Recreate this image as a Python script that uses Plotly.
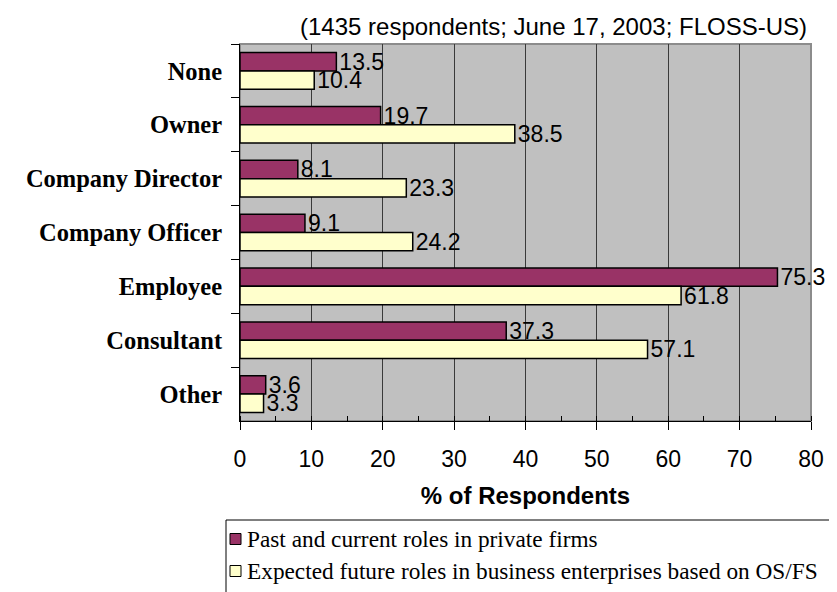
import plotly.graph_objects as go

# ---------------- data ----------------
categories = ["None", "Owner", "Company Director", "Company Officer",
              "Employee", "Consultant", "Other"]
past_current = [13.5, 19.7, 8.1, 9.1, 75.3, 37.3, 3.6]
expected_future = [10.4, 38.5, 23.3, 24.2, 61.8, 57.1, 3.3]
series_names = ["Past and current roles in private firms",
                "Expected future roles in business enterprises based on OS/FS"]
x_ticks = [0, 10, 20, 30, 40, 50, 60, 70, 80]
title_text = "(1435 respondents; June 17, 2003; FLOSS-US)"
x_title = "% of Respondents"

# ---------------- style / layout ----------------
W, H = 837, 592
PL, PR, PT, PB = 232, 803, 36, 413   # plot area in pixels
colors = ["#993366", "#FFFFCC"]
SANS = "Liberation Sans, Arial, sans-serif"
SERIF = "Liberation Serif, Times New Roman, serif"


def px2x(px):
    return (px - PL) / (PR - PL)


def py2y(py):
    return (PB - py) / (PB - PT)


fig = go.Figure()
for vals, name, col in zip([past_current, expected_future], series_names, colors):
    fig.add_trace(go.Bar(
        y=categories, x=vals, orientation="h", name=name,
        marker=dict(color=col, line=dict(color="black", width=1.5)),
        texttemplate="%{x:.1f}", textposition="outside",
        textfont=dict(family=SANS, size=23, color="black"),
        constraintext="none", cliponaxis=False, showlegend=False,
    ))

shapes = [
    # grey plot-area frame (top / right)
    dict(type="rect", xref="paper", yref="paper", x0=0, x1=1, y0=0, y1=1,
         line=dict(color="#8C8C8C", width=2), fillcolor="rgba(0,0,0,0)", layer="below"),
    # legend box
    dict(type="rect", xref="paper", yref="paper",
         x0=px2x(218), x1=px2x(839), y0=py2y(512), y1=py2y(588),
         line=dict(color="black", width=1), fillcolor="white"),
]
annotations = []
legend_rows = [531, 563]
for name, col, cy in zip(series_names, colors, legend_rows):
    shapes.append(dict(type="rect", xref="paper", yref="paper",
                       x0=px2x(222), x1=px2x(233), y0=py2y(cy - 5.5), y1=py2y(cy + 5.5),
                       line=dict(color="black", width=1), fillcolor=col))
    annotations.append(dict(xref="paper", yref="paper", x=px2x(237), y=py2y(cy),
                            xanchor="left", yanchor="middle", showarrow=False,
                            text=name, font=dict(family=SERIF, size=23.3, color="black")))

fig.update_layout(
    width=W, height=H,
    margin=dict(l=PL, r=W - PR, t=PT, b=H - PB, autoexpand=False),
    paper_bgcolor="white", plot_bgcolor="#C0C0C0",
    barmode="group", bargap=0.32, bargroupgap=0,
    showlegend=False,
    title=dict(text=title_text, xref="paper", x=px2x(799), xanchor="right",
               yref="container", y=1 - 19 / H, yanchor="middle",
               font=dict(family=SANS, size=24, color="black")),
    xaxis=dict(range=[0, 80], tickvals=x_ticks, showgrid=True, gridcolor="#3A3A3A",
               gridwidth=1, zeroline=False, showline=True, linecolor="black", linewidth=1,
               ticks="outside", ticklen=8, tickcolor="black", tickwidth=1,
               minor=dict(dtick=5, ticks="inside", ticklen=5, tickcolor="black", showgrid=False),
               tickfont=dict(family=SANS, size=23, color="black"), ticklabelstandoff=9,
               title=dict(text=x_title, standoff=16,
                          font=dict(family=SANS, size=24, color="black", weight="bold"))),
    yaxis=dict(autorange="reversed", showgrid=False, zeroline=False, showline=True,
               linecolor="black", linewidth=1, ticks="outside", tickson="boundaries",
               ticklen=8, tickcolor="black",
               tickfont=dict(family=SERIF, size=24.5, color="black", weight="bold"),
               ticklabelstandoff=12),
    shapes=shapes, annotations=annotations,
)

fig.write_html("out.html")
